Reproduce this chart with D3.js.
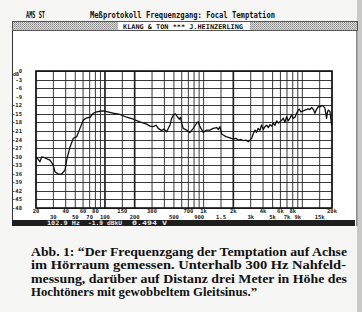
<!DOCTYPE html>
<html><head><meta charset="utf-8">
<script src="https://cdn.jsdelivr.net/npm/d3@7"></script>
<style>body{margin:0;background:#f6f6f4;} svg{display:block}</style>
</head><body><svg id="c" width="362" height="312"></svg>
<script>
// ---- data ----
const freqHz = [20,20.9,21.9,22.8,24.1,25.9,27.7,29.9,31.1,33.6,36.4,39.3,40.9,44.2,47.7,51.7,55.8,60.3,65.3,70.5,76.1,82.4,89,96.2,104,121,142,166,194,226,265,286,309,329,347,376,396,422,456,474,500,518,537,566,582,599,621,673,726,785,849,881,918,991,1072,1158,1251,1354,1413,1463,1522,1582,1683,1849,1996,2124,2244,2388,2519,2685,2833,3065,3182,3312,3428,3576,3720,3871,4021,4180,4348,4537,4700,4888,5075,5281,5496,5728,5934,6172,6411,6666,6931,7197,7486,7785,8091,8415,8756,9090,9310,9683,10210,10628,11480,11940,12420,12958,13420,13900,14500,15080,15700,16370,16950,17620,17960,18290,19050,19820];
const levelDb = [-30.0,-30.8,-31.8,-30.1,-30.3,-30.8,-31.2,-33.0,-35.3,-36.1,-36.1,-34.7,-31.2,-26.7,-23.6,-23.0,-20.1,-17.2,-16.4,-16.2,-14.8,-14.3,-14.1,-14.0,-14.2,-14.8,-15.2,-16.2,-16.9,-17.8,-18.6,-19.3,-19.5,-19.0,-20.1,-20.9,-20.3,-21.3,-18.9,-16.6,-15.2,-15.0,-15.8,-16.9,-16.2,-18.3,-20.1,-20.7,-21.6,-20.1,-18.3,-17.8,-19.5,-21.5,-20.7,-20.7,-20.1,-19.8,-20.5,-19.5,-22.0,-22.4,-23.0,-23.4,-23.9,-23.6,-24.2,-24.0,-24.4,-24.2,-24.8,-23.6,-22.0,-20.7,-21.5,-20.1,-20.8,-18.9,-20.5,-19.5,-19.0,-19.8,-18.8,-19.3,-18.3,-19.0,-17.5,-18.2,-17.8,-17.3,-16.5,-18.0,-16.0,-17.5,-16.5,-15.4,-16.6,-16.2,-14.8,-13.7,-13.4,-14.3,-14.0,-13.7,-13.3,-13.5,-12.8,-13.5,-14.8,-13.5,-12.5,-12.6,-12.1,-12.3,-13.0,-16.6,-14.5,-13.7,-14.2,-19.0];
const yTickDb = [0,-3,-6,-9,-12,-15,-18,-21,-24,-27,-30,-33,-36,-39,-42,-45,-48];
const gridHz = [20,30,40,50,60,70,80,90,100,150,200,300,400,500,600,700,800,900,1000,1500,2000,3000,4000,5000,6000,7000,8000,9000,10000,15000,20000];
const heavyHz = [100,200,2000];
const row1Hz = [20,40,60,80,150,300,700,1000,2000,4000,6000,8000,20000];
const row1Text = ["20","40","60","80","150","300","700","1k","2k","4k","6k","8k","20k"];
const row2Hz = [30,50,70,100,200,500,900,1500,3000,5000,7000,9000,15000];
const row2Text = ["30","50","70","100","200","500","900","1.5","3k","5k","7k","9k","15k"];
const titleLeft = "AMS ST";
const titleMain = "Meßprotokoll Frequenzgang: Focal Temptation";
const headerText = "KLANG & TON *** J.HEINZERLING";
const statusText = ["102.9 Hz", "-1.9 dBkU", "0.494 V"];
const captionLines = [
  "Abb. 1: \u201CDer Frequenzgang der Temptation auf Achse",
  "im Hörraum gemessen. Unterhalb 300 Hz Nahfeld-",
  "messung, darüber auf Distanz drei Meter in Höhe des",
  "Hochtöners mit gewobbeltem Gleitsinus.\u201D"
];

const svg = d3.select("#c");
const mono = "'DejaVu Sans Mono', 'Liberation Mono', monospace";

// halftone pattern
const defs = svg.append("defs");
const pat = defs.append("pattern").attr("id","ht").attr("width",2).attr("height",2).attr("patternUnits","userSpaceOnUse");
pat.append("rect").attr("width",2).attr("height",2).attr("fill","#d8d8d8");
pat.append("rect").attr("width",1).attr("height",1).attr("fill","#8c8c8c");
pat.append("rect").attr("x",1).attr("y",1).attr("width",1).attr("height",1).attr("fill","#a8a8a8");

// right page edge
svg.append("rect").attr("x",357).attr("y",0).attr("width",5).attr("height",312).attr("fill","#c9c9c7");
svg.append("rect").attr("x",355.5).attr("y",21).attr("width",2).attr("height",205).attr("fill","#8a8a8a");

// panel
svg.append("rect").attr("x",12).attr("y",21).attr("width",344).attr("height",205).attr("fill","#ffffff");
svg.append("line").attr("x1",12.5).attr("x2",12.5).attr("y1",21).attr("y2",226).attr("stroke","#333").attr("stroke-width",1);

// title
svg.append("text").attr("x",26).attr("y",18).attr("font-family",mono).attr("font-weight","bold").attr("font-size",8)
  .attr("textLength",19).attr("lengthAdjust","spacingAndGlyphs").attr("fill","#111").text(titleLeft);
svg.append("text").attr("x",90).attr("y",18).attr("font-family",mono).attr("font-weight","bold").attr("font-size",8)
  .attr("textLength",185).attr("lengthAdjust","spacingAndGlyphs").attr("fill","#111").text(titleMain);

// header bar
svg.append("rect").attr("x",12.5).attr("y",21.5).attr("width",345).attr("height",9).attr("fill","url(#ht)").attr("stroke","#555").attr("stroke-width",1);
svg.append("rect").attr("x",118).attr("y",22).attr("width",132).attr("height",8).attr("fill","#fff");
svg.append("text").attr("x",123).attr("y",28.6).attr("font-family",mono).attr("font-weight","bold").attr("font-size",6.5)
  .attr("textLength",120).attr("lengthAdjust","spacingAndGlyphs").attr("fill","#111").text(headerText);

// scales
const x = d3.scaleLog().domain([20,20000]).range([36,332]);
const y = d3.scaleLinear().domain([0,-48]).range([71,208]);

const g = svg.append("g");
// horizontal grid
g.selectAll("line.h").data(yTickDb).join("line").attr("class","h")
  .attr("x1",36).attr("x2",332).attr("y1",d=>Math.round(y(d))+0.5).attr("y2",d=>Math.round(y(d))+0.5)
  .attr("stroke","#222").attr("stroke-width",0.9);
// vertical grid
g.selectAll("line.v").data(gridHz).join("line").attr("class","v")
  .attr("x1",d=>x(d)).attr("x2",d=>x(d)).attr("y1",71).attr("y2",208)
  .attr("stroke","#222").attr("stroke-width",d=>heavyHz.includes(d)?1.7:0.9);
// frame
g.append("rect").attr("x",36).attr("y",71).attr("width",296).attr("height",137).attr("fill","none").attr("stroke","#111").attr("stroke-width",1.6);

// y labels
g.selectAll("text.yl").data(yTickDb).join("text").attr("class","yl")
  .attr("x",22).attr("y",d=>y(d)+2).attr("text-anchor","end")
  .attr("font-family",mono).attr("font-weight","bold").attr("font-size",5.5).attr("fill","#222")
  .text(d=>d===0?"0":d);
g.append("text").attr("x",13).attr("y",76).attr("font-family",mono).attr("font-weight","bold").attr("font-size",5).attr("fill","#222").text("dB");

// x labels
g.selectAll("text.r1").data(row1Hz).join("text").attr("class","r1")
  .attr("x",d=>x(d)).attr("y",213).attr("text-anchor","middle")
  .attr("font-family",mono).attr("font-weight","bold").attr("font-size",5.5).attr("fill","#222")
  .text((d,i)=>row1Text[i]);
g.selectAll("text.r2").data(row2Hz).join("text").attr("class","r2")
  .attr("x",d=>x(d)).attr("y",218.5).attr("text-anchor","middle")
  .attr("font-family",mono).attr("font-weight","bold").attr("font-size",5.5).attr("fill","#222")
  .text((d,i)=>row2Text[i]);

// curve
const pts = freqHz.map((f,i)=>[f,levelDb[i]]);
g.append("path").datum(pts).attr("fill","none").attr("stroke","#111").attr("stroke-width",1.3)
  .attr("stroke-linejoin","round")
  .attr("d", d3.line().x(d=>x(d[0])).y(d=>y(d[1])));

// status bar
svg.append("rect").attr("x",12).attr("y",220).attr("width",343).attr("height",6).attr("fill","#1e1e1e");
const sx = [47,88,132], sw = [33,34,35];
statusText.forEach((t,i)=>{
  svg.append("text").attr("x",sx[i]).attr("y",225.2).attr("font-family",mono).attr("font-weight","bold").attr("font-size",6)
    .attr("textLength",sw[i]).attr("lengthAdjust","spacingAndGlyphs").attr("fill","#e8e8e8").text(t);
});

// caption
const capY = [256,269.4,282.8,296.2];
const capW = [316,315,316,226];
captionLines.forEach((t,i)=>{
  svg.append("text").attr("x",31).attr("y",capY[i])
    .attr("font-family","'Liberation Serif', 'Times New Roman', serif").attr("font-weight","bold").attr("font-size",12)
    .attr("textLength",capW[i]).attr("lengthAdjust","spacingAndGlyphs").attr("fill","#111").text(t);
});
</script></body></html>
